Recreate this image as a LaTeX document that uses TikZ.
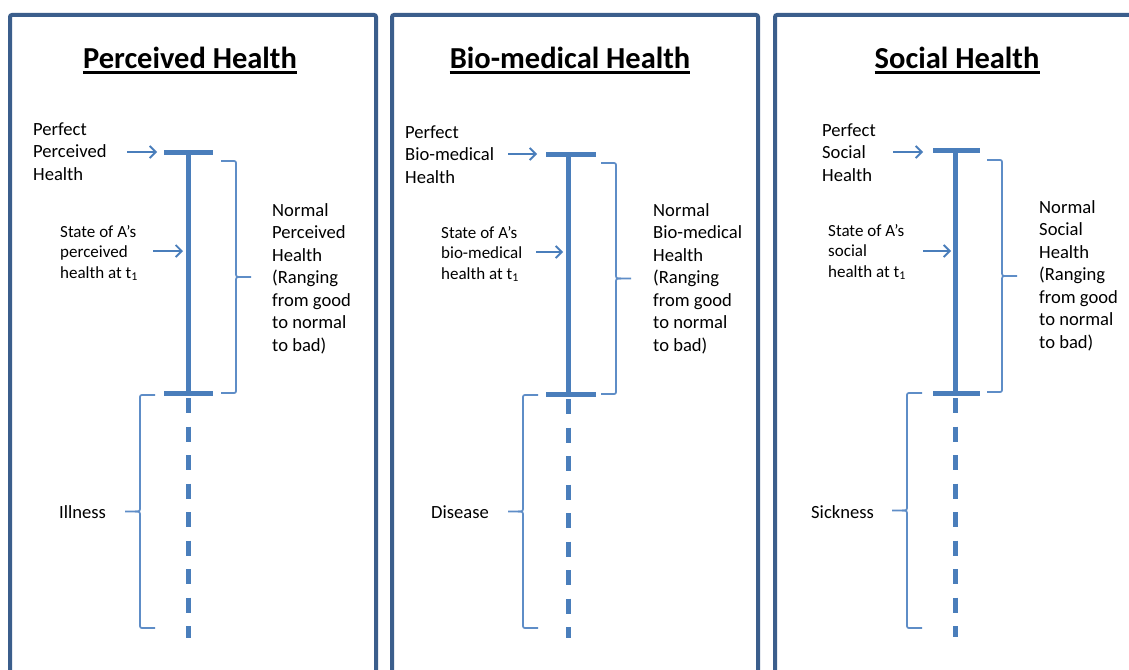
\documentclass[tikz,border=0pt]{standalone}
\usepackage{fontspec}
\setmainfont{Carlito}
\usetikzlibrary{arrows.meta}

\definecolor{panelblue}{HTML}{3B5E8C}
\definecolor{lineblue}{HTML}{4A7EBB}
\definecolor{braceblue}{HTML}{5E8DC7}

\newcommand\bodyfont{\fontsize{18.6}{22.5}\selectfont}
\newcommand\statefont{\fontsize{17}{20.5}\selectfont}
\newcommand\titlefont{\fontsize{30.5}{36}\selectfont\bfseries}
% left-aligned block whose baseline is that of its first line
\newcommand\lblock[1]{\begin{tabular}[t]{@{}l@{}}#1\end{tabular}}

% curly brace: spine x, top y, bottom y, direction of the tip (+1 right, -1 left)
\newcommand\curlybrace[4]{%
  \draw[bracestyle] ({#1-#4*15},#2) -- ({#1-#4*4},#2) .. controls (#1,#2) .. (#1,{#2+4})
     -- (#1,{(#2+#3)/2-5}) .. controls (#1,{(#2+#3)/2}) .. ({#1+#4*5},{(#2+#3)/2})
     -- ({#1+#4*15},{(#2+#3)/2});
  \draw[bracestyle] ({#1+#4*5},{(#2+#3)/2}) .. controls (#1,{(#2+#3)/2}) .. (#1,{(#2+#3)/2+5})
     -- (#1,{#3-4}) .. controls (#1,#3) .. ({#1-#4*4},#3) -- ({#1-#4*15},#3);
}

\tikzset{
  panelbox/.style={draw=panelblue, line width=4pt, rounded corners=2pt},
  scaleline/.style={draw=lineblue, line width=5pt},
  scaledash/.style={draw=lineblue, line width=5pt, dash pattern=on 15pt off 13.5pt},
  pointer/.style={draw=lineblue, line width=1.8pt, -{Straight Barb[length=6pt,width=12pt]}},
  bracestyle/.style={draw=braceblue, line width=1.7pt},
  lbl/.style={anchor=base west, inner sep=0pt, font=\bodyfont, text=black},
  statelbl/.style={lbl, font=\statefont},
  paneltitle/.style={anchor=base, inner sep=0pt, font=\titlefont, text=black},
  titlerule/.style={draw=black, line width=2.6pt},
}

\begin{document}
\begin{tikzpicture}[x=1pt, y=-1pt]
\useasboundingbox (0,0) rectangle (1129,669);
\clip (0,0) rectangle (1129,669);
\fill[white] (0,0) rectangle (1129,669);

% ---------- panel frames ----------
\draw[panelbox] (10,15) rectangle (376,720);
\draw[panelbox] (392,15) rectangle (758,720);
\draw[panelbox] (775,15) rectangle (1150,720);

% ---------- Perceived Health ----------
\node[paneltitle] (p1title) at (190,68) {Perceived Health};
\draw[titlerule] ([yshift=-4.5pt]p1title.base west) -- ([yshift=-4.5pt]p1title.base east);

\coordinate (p1top) at (188,152);
\coordinate (p1bot) at (188,393);
\coordinate (p1end) at (188,638);
\draw[scaleline] (p1top) -- (p1bot);
\draw[scaleline] (164,152) -- (213,152);
\draw[scaleline] (164,393) -- (213,393);
\draw[scaledash] (188,398) -- (p1end);

\node[lbl] (p1perfect) at (33,135) {\lblock{Perfect\\Perceived\\Health}};
\coordinate (p1pa) at (127,152);
\coordinate (p1pb) at (157,152);
\draw[pointer] (p1pa) -- (p1pb);

\node[statelbl] (p1state) at (60,237) {\lblock{State of A’s\\perceived\\health at t\textsubscript{1}}};
\coordinate (p1sa) at (153,251);
\coordinate (p1sb) at (183,251);
\draw[pointer] (p1sa) -- (p1sb);

\curlybrace{236}{161}{393}{1}
\node[lbl] (p1normal) at (272,216) {\lblock{Normal\\Perceived\\Health\\(Ranging\\from good\\to normal\\to bad)}};

\curlybrace{140}{395}{628}{-1}
\node[lbl] (p1ill) at (59,518) {Illness};

% ---------- Bio-medical Health ----------
\node[paneltitle] (p2title) at (570,68) {Bio-medical Health};
\draw[titlerule] ([yshift=-4.5pt]p2title.base west) -- ([yshift=-4.5pt]p2title.base east);

\coordinate (p2top) at (568,154);
\coordinate (p2bot) at (568,394);
\coordinate (p2end) at (568,638);
\draw[scaleline] (p2top) -- (p2bot);
\draw[scaleline] (546,154) -- (596,154);
\draw[scaleline] (546,394) -- (596,394);
\draw[scaledash] (568,399) -- (p2end);

\node[lbl] (p2perfect) at (405,138) {\lblock{Perfect\\Bio-medical\\Health}};
\coordinate (p2pa) at (508,154);
\coordinate (p2pb) at (537,154);
\draw[pointer] (p2pa) -- (p2pb);

\node[statelbl] (p2state) at (441,238) {\lblock{State of A’s\\bio-medical\\health at t\textsubscript{1}}};
\coordinate (p2sa) at (536,252);
\coordinate (p2sb) at (563,252);
\draw[pointer] (p2sa) -- (p2sb);

\curlybrace{616}{163}{394}{1}
\node[lbl] (p2normal) at (653,216) {\lblock{Normal\\Bio-medical\\Health\\(Ranging\\from good\\to normal\\to bad)}};

\curlybrace{523}{395}{628}{-1}
\node[lbl] (p2dis) at (431,518) {Disease};

% ---------- Social Health ----------
\node[paneltitle] (p3title) at (957,68) {Social Health};
\draw[titlerule] ([yshift=-4.5pt]p3title.base west) -- ([yshift=-4.5pt]p3title.base east);

\coordinate (p3top) at (955,150);
\coordinate (p3bot) at (955,393);
\coordinate (p3end) at (955,637);
\draw[scaleline] (p3top) -- (p3bot);
\draw[scaleline] (933,150) -- (980,150);
\draw[scaleline] (933,393) -- (980,393);
\draw[scaledash] (955,398) -- (p3end);

\node[lbl] (p3perfect) at (822,136) {\lblock{Perfect\\Social\\Health}};
\coordinate (p3pa) at (893,152);
\coordinate (p3pb) at (923,152);
\draw[pointer] (p3pa) -- (p3pb);

\node[statelbl] (p3state) at (828,236) {\lblock{State of A’s\\social\\health at t\textsubscript{1}}};
\coordinate (p3sa) at (923,251);
\coordinate (p3sb) at (951,251);
\draw[pointer] (p3sa) -- (p3sb);

\curlybrace{1002}{160}{392}{1}
\node[lbl] (p3normal) at (1039,213) {\lblock{Normal\\Social\\Health\\(Ranging\\from good\\to normal\\to bad)}};

\curlybrace{907}{393}{628}{-1}
\node[lbl] (p3sick) at (811,518) {Sickness};
\end{tikzpicture}
\end{document}
